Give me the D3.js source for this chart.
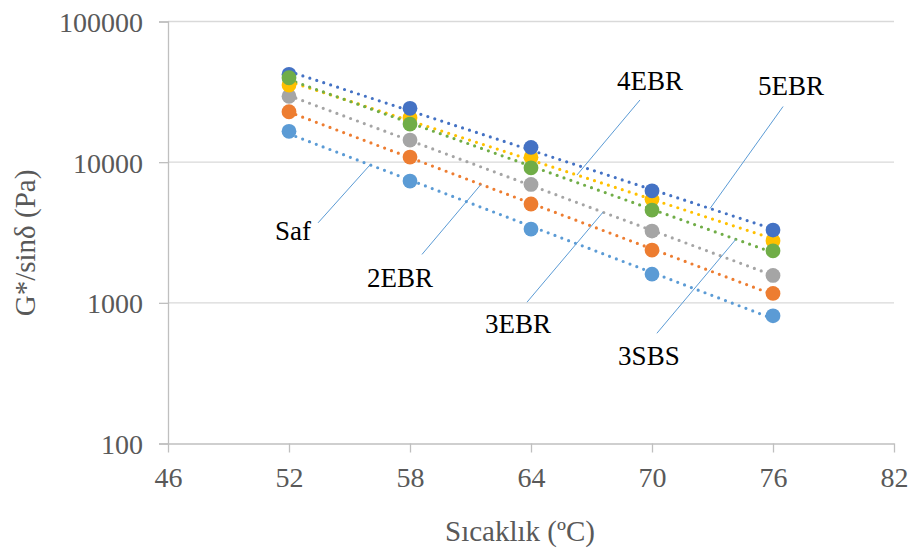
<!DOCTYPE html>
<html>
<head>
<meta charset="utf-8">
<script src="https://cdn.jsdelivr.net/npm/d3@7"></script>
<style>
  html, body { margin: 0; padding: 0; background: #fff; }
  svg { display: block; }
</style>
</head>
<body>
<svg id="chart" width="914" height="552" font-family="Liberation Serif, Times New Roman, serif"></svg>
<script>
// Test temperatures (°C)
const temperatures = [52, 58, 64, 70, 76];

// G*/sinδ (Pa) for each binder
const safValues  = [16560, 7340, 3344, 1600, 808];
const ebr2Values = [22830, 10870, 5040, 2371, 1166];
const ebr3Values = [29380, 14360, 6950, 3236, 1566];
const ebr4Values = [35350, 20700, 10820, 5440, 2760];
const ebr5Values = [42100, 24140, 12740, 6260, 3289];
const sbs3Values = [39830, 18660, 9120, 4563, 2344];

// Axis ticks
const xTicks = [46, 52, 58, 64, 70, 76, 82];
const yTicks = [100, 1000, 10000, 100000];

// Series in drawing order (later ones sit on top)
const series = [
  { name: "Saf",  values: safValues,  color: "#5B9BD5" },
  { name: "2EBR", values: ebr2Values, color: "#ED7D31" },
  { name: "3EBR", values: ebr3Values, color: "#A5A5A5" },
  { name: "4EBR", values: ebr4Values, color: "#FFC000" },
  { name: "5EBR", values: ebr5Values, color: "#4472C4" },
  { name: "3SBS", values: sbs3Values, color: "#70AD47" }
];

// Callout labels: temperature where the leader meets the trend line,
// leader vector (px) and label offset from the leader's far end (px)
const callouts = [
  { name: "Saf",  at: 56.02, lx: -52, ly: 58,   tx: -25, ty: 17 },
  { name: "2EBR", at: 61.52, lx: -59, ly: 70,   tx: -22, ty: 33 },
  { name: "3EBR", at: 67.57, lx: -76, ly: 90,   tx: -9,  ty: 31 },
  { name: "4EBR", at: 66.28, lx: 63,  ly: -75,  tx: 10,  ty: -10 },
  { name: "5EBR", at: 72.88, lx: 73,  ly: -102, tx: 8,   ty: -11 },
  { name: "3SBS", at: 74.16, lx: -79, ly: 94,   tx: -8,  ty: 32 }
];

const FONT = "Liberation Serif, Times New Roman, serif";
const svg = d3.select("#chart");
const plotLeft = 168, plotRight = 894, plotTop = 21.5, plotBottom = 443.5;

const x = d3.scaleLinear().domain([46, 82]).range([plotLeft, plotRight]);
const y = d3.scaleLog().domain([100, 100000]).range([plotBottom, plotTop]);

const axisColor = "#BFBFBF";
const gridColor = "#D9D9D9";
const textColor = "#595959";

// Horizontal gridlines
svg.append("g")
  .selectAll("line")
  .data(yTicks.filter(d => d !== 100))
  .join("line")
  .attr("x1", plotLeft).attr("x2", plotRight)
  .attr("y1", d => y(d)).attr("y2", d => y(d))
  .attr("stroke", gridColor).attr("stroke-width", 1.3);

// Y axis
const yAxis = svg.append("g")
  .attr("transform", `translate(${plotLeft},0)`)
  .call(d3.axisLeft(y).tickValues(yTicks).tickFormat(d3.format("d"))
    .tickSize(9).tickPadding(16))
  .attr("font-family", FONT).attr("font-size", 28);
yAxis.select(".domain").attr("stroke", axisColor).attr("stroke-width", 1.3);
yAxis.selectAll(".tick line").attr("stroke", axisColor).attr("stroke-width", 1.3);
yAxis.selectAll(".tick text")
  .attr("fill", textColor).attr("dy", "0.36em");

// X axis
const xAxis = svg.append("g")
  .attr("transform", `translate(0,${plotBottom})`)
  .call(d3.axisBottom(x).tickValues(xTicks).tickFormat(d3.format("d"))
    .tickSize(9).tickSizeOuter(0))
  .attr("font-family", FONT).attr("font-size", 28);
xAxis.select(".domain").attr("stroke", axisColor).attr("stroke-width", 1.3);
xAxis.selectAll(".tick line").attr("stroke", axisColor).attr("stroke-width", 1.3);
xAxis.selectAll(".tick text")
  .attr("fill", textColor)
  .attr("y", 43.5).attr("dy", 0);

// Exponential trend line (least squares on ln y)
function expFit(xs, ys) {
  const n = xs.length;
  const ly = ys.map(Math.log);
  const mx = d3.mean(xs), my = d3.mean(ly);
  let sxy = 0, sxx = 0;
  for (let i = 0; i < n; i++) {
    sxy += (xs[i] - mx) * (ly[i] - my);
    sxx += (xs[i] - mx) * (xs[i] - mx);
  }
  const b = sxy / sxx;
  const a = my - b * mx;
  return t => Math.exp(a + b * t);
}
series.forEach(s => { s.fit = expFit(temperatures, s.values); });

const tMin = d3.min(temperatures), tMax = d3.max(temperatures);
const line = d3.line().x(d => x(d[0])).y(d => y(d[1]));

svg.append("g")
  .selectAll("path")
  .data(series)
  .join("path")
  .attr("d", s => line([[tMin, s.fit(tMin)], [tMax, s.fit(tMax)]]))
  .attr("fill", "none")
  .attr("stroke", s => s.color)
  .attr("stroke-width", 3.2)
  .attr("stroke-linecap", "round")
  .attr("stroke-dasharray", "0 7.3");

// Markers
series.forEach(s => {
  svg.append("g")
    .selectAll("circle")
    .data(temperatures.map((t, i) => [t, s.values[i]]))
    .join("circle")
    .attr("cx", d => x(d[0]))
    .attr("cy", d => y(d[1]))
    .attr("r", 7.4)
    .attr("fill", s.color);
});

// Callouts
const byName = Object.fromEntries(series.map(s => [s.name, s]));
const cg = svg.append("g");
callouts.forEach(c => {
  const s = byName[c.name];
  const ex = x(c.at), ey = y(s.fit(c.at));
  const sx = ex + c.lx, sy = ey + c.ly;
  cg.append("line")
    .attr("x1", sx).attr("y1", sy).attr("x2", ex).attr("y2", ey)
    .attr("stroke", "#5B9BD5").attr("stroke-width", 1);
  cg.append("text")
    .attr("x", sx + c.tx).attr("y", sy + c.ty)
    .attr("text-anchor", "middle")
    .attr("font-family", FONT)
    .attr("font-size", 27)
    .attr("fill", "#000")
    .text(c.name);
});

// Axis titles
svg.append("text")
  .attr("transform", "translate(35,243) rotate(-90)")
  .attr("text-anchor", "middle")
  .attr("font-family", FONT)
  .attr("font-size", 29)
  .attr("fill", textColor)
  .text("G*/sinδ (Pa)");

svg.append("text")
  .attr("x", 520).attr("y", 541)
  .attr("text-anchor", "middle")
  .attr("font-family", FONT)
  .attr("font-size", 29)
  .attr("fill", textColor)
  .text("Sıcaklık (ºC)");
</script>
</body>
</html>
